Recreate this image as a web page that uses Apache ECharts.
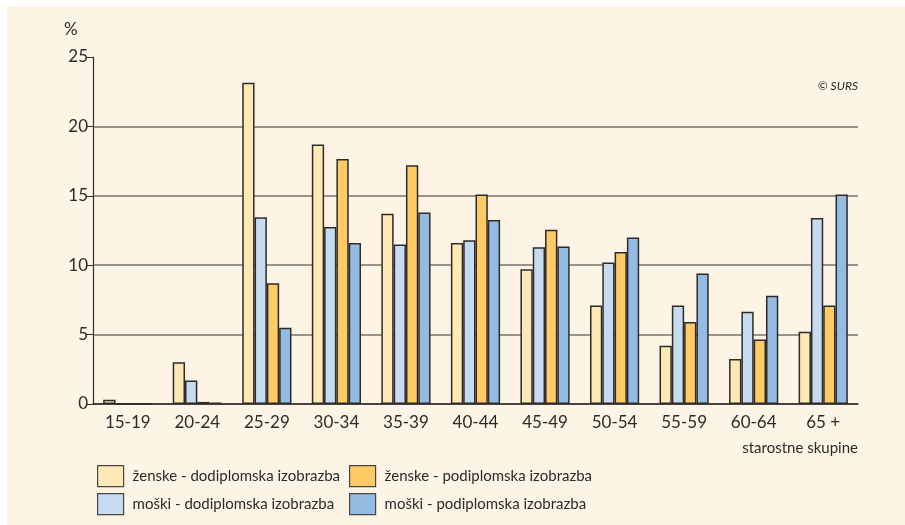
<!DOCTYPE html>
<html>
<head>
    <meta charset="utf-8">
    <title>Starostne skupine</title>
    <script src="https://cdn.jsdelivr.net/npm/echarts@6/dist/echarts.min.js"></script>
    <style>
        html, body { margin: 0; padding: 0; background: #fff; }
    </style>
</head>
<body>
    <div id="main" style="width: 905px;height:525px;"></div>
    <script type="text/javascript">
        var categories = ['15-19', '20-24', '25-29', '30-34', '35-39', '40-44', '45-49', '50-54', '55-59', '60-64', '65 +'];

        var seriesNames = [
            'ženske - dodiplomska izobrazba',
            'moški - dodiplomska izobrazba',
            'ženske - podiplomska izobrazba',
            'moški - podiplomska izobrazba'
        ];

        var zenskeDod = [0.3, 3.0, 23.15, 18.7, 13.7, 11.6, 9.7, 7.1, 4.2, 3.25, 5.2];
        var moskiDod = [0.05, 1.7, 13.45, 12.75, 11.5, 11.8, 11.3, 10.2, 7.1, 6.65, 13.4];
        var zenskePod = [0.02, 0.15, 8.7, 17.65, 17.2, 15.1, 12.55, 10.95, 5.9, 4.65, 7.1];
        var moskiPod = [0.05, 0.1, 5.5, 11.6, 13.8, 13.25, 11.35, 12.0, 9.4, 7.8, 15.1];

        var colors = ['#fee8b6', '#c6dbf0', '#fecb66', '#94bce3'];

        var myChart = echarts.init(document.getElementById('main'));

        var font = 'Lato';

        function bar(i, data) {
            return {
                name: seriesNames[i],
                type: 'bar',
                data: data,
                barWidth: 12.3,
                barGap: '0%',
                itemStyle: {
                    color: colors[i],
                    borderColor: '#2e2a28',
                    borderWidth: 1.5
                }
            };
        }

        // one legend per item, placed like the 2x2 block in the original
        var legendPos = [[97, 465], [97, 493], [349, 465], [349, 493]];
        function legendItem(i) {
            return {
                left: legendPos[i][0],
                top: legendPos[i][1],
                icon: 'rect',
                itemWidth: 26,
                itemHeight: 21,
                itemGap: 0,
                padding: 0,
                data: [seriesNames[i]],
                textStyle: { fontSize: 15, color: '#2b2b2b', fontFamily: font, padding: [0, 0, 0, 4] },
                itemStyle: { borderWidth: 1.2, borderColor: '#4a4540' }
            };
        }

        var option = {
            backgroundColor: '#ffffff',
            animation: false,
            textStyle: { fontFamily: font },
            graphic: [
                {
                    type: 'rect',
                    z: -10,
                    shape: { x: 7, y: 6, width: 898, height: 519 },
                    style: { fill: '#fdf4e5' }
                },
                {
                    type: 'text',
                    left: 64, top: 21,
                    style: { text: '%', fontSize: 17, fill: '#2b2b2b', fontFamily: font }
                },
                {
                    type: 'text',
                    right: 47, top: 80,
                    style: { text: '© SURS', fontSize: 12, fontStyle: 'italic', fill: '#2b2b2b', fontFamily: font }
                },
                {
                    type: 'text',
                    right: 47, top: 441,
                    style: { text: 'starostne skupine', fontSize: 15, fill: '#2b2b2b', fontFamily: font }
                }
            ],
            grid: {
                left: 93,
                right: 47,
                top: 57,
                bottom: 121
            },
            legend: [legendItem(0), legendItem(1), legendItem(2), legendItem(3)],
            xAxis: {
                type: 'category',
                data: categories,
                axisLine: { lineStyle: { color: '#2e2a28', width: 1.5 } },
                axisTick: { show: false },
                axisLabel: { fontSize: 17, color: '#2b2b2b', margin: 10, fontFamily: font }
            },
            yAxis: {
                type: 'value',
                min: 0,
                max: 25,
                interval: 5,
                axisLine: { show: true, lineStyle: { color: '#2e2a28', width: 1.2 } },
                axisTick: { show: true, length: 7, lineStyle: { color: '#2e2a28' } },
                axisLabel: { fontSize: 17, color: '#2b2b2b', margin: 5, fontFamily: font },
                splitLine: {
                    show: true,
                    lineStyle: {
                        color: ['#7a736c', '#7a736c', '#7a736c', '#7a736c', '#7a736c', 'rgba(0,0,0,0)'],
                        width: 1.5
                    }
                }
            },
            series: [
                bar(0, zenskeDod),
                bar(1, moskiDod),
                bar(2, zenskePod),
                bar(3, moskiPod)
            ]
        };

        myChart.setOption(option);
    </script>
</body>
</html>
